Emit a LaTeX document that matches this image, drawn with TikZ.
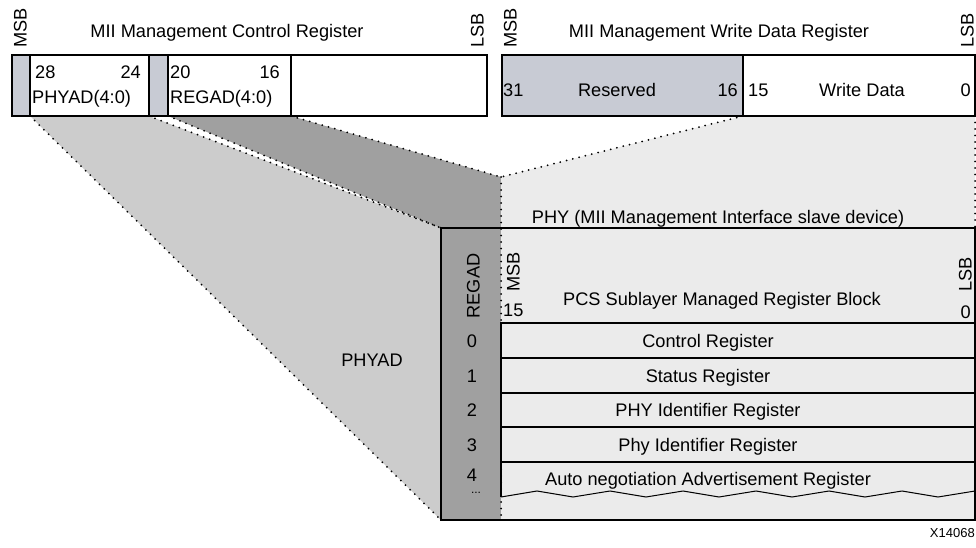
\documentclass[tikz,border=0pt]{standalone}
\usepackage{fontspec}
\setmainfont{Liberation Sans}
\usepackage{tikz}
\usetikzlibrary{positioning}
\tikzstyle{canvas} = [x = 1pt, y = -1pt]
\definecolor{cellGray}{RGB}{200,203,212}
\definecolor{funnelLight}{RGB}{204,204,204}
\definecolor{funnelDark}{RGB}{160,160,160}
\definecolor{phyFill}{RGB}{235,235,235}
\tikzstyle{cellStyle} = [draw=black, line width=1.5pt]
\tikzstyle{rowStyle} = [draw=black, line width=1.3pt]
\tikzstyle{funnelLine} = [line width=2pt, dash pattern=on 0pt off 6.5pt, line cap=round]
\tikzstyle{regText} = [font=\fontsize{18.2}{21}\selectfont, inner sep=0pt, text height=13pt, text depth=0pt]
\tikzstyle{sideText} = [regText, rotate=90, anchor=west]
\tikzstyle{noteText} = [font=\fontsize{13}{15}\selectfont, inner sep=0pt, anchor=east]
\newcommand{\regCell}[3]{\filldraw [cellStyle, fill=#3] (#1,55) rectangle (#2,116);}
\newcommand{\phyRow}[4]{
  \filldraw [rowStyle, fill=phyFill] (501,#1) rectangle (975,#2);
  \node [regText] (num#3) at (472,{(#1+#2)/2}) {#3};
  \node [regText] (row#3) at (708,{(#1+#2)/2}) {#4};
}

\begin{document}
\begin{tikzpicture}[canvas]
  \useasboundingbox (0,0) rectangle (976,548);
  \coordinate (phyTop) at (441,228);
  \coordinate (phyBottom) at (441,520);
  \coordinate (regadTop) at (501,177);
  \coordinate (regadBox) at (501,228);
  \coordinate (phyRight) at (975,228);

  % funnels from the register fields down to the PHY
  \fill [funnelLight] (30,116) -- (149,116) -- (phyTop) -- (phyBottom) -- cycle;
  \fill [funnelDark] (168,116) -- (291,116) -- (regadTop) -- (regadBox) -- (phyTop) -- cycle;
  \fill [phyFill] (743,116) -- (975,116) -- (phyRight) -- (regadBox) -- (regadTop) -- cycle;
  \draw [funnelLine] (30,116) -- (phyBottom);
  \draw [funnelLine] (149,116) -- (phyTop);
  \draw [funnelLine] (168,116) -- (phyTop);
  \draw [funnelLine] (291,116) -- (regadTop);
  \draw [funnelLine] (743,116) -- (regadTop);
  \draw [funnelLine] (975,116) -- (phyRight);
  \node [regText] (phyad) at (372,360) {PHYAD};

  % PHY block
  \fill [funnelDark] (phyTop) rectangle (501,520);
  \fill [phyFill] (regadBox) rectangle (975,520);
  \draw [funnelLine] (regadTop) -- (501,520);
  \node [regText] (phyTitle) at (718,217) {PHY (MII Management Interface slave device)};
  \node [sideText, anchor=center] (regad) at (473,286) {REGAD};
  \node [sideText] (phyMsb) at (513,292) {MSB};
  \node [sideText] (phyLsb) at (965,292) {LSB};
  \node [regText, anchor=west] (phyHigh) at (503,310) {15};
  \node [regText, anchor=east] (phyLow) at (971,312) {0};
  \node [regText] (pcsTitle) at (722,299) {PCS Sublayer Managed Register Block};
  \foreach \rowTop/\rowBot/\rowNum/\rowName in {323/358/0/Control Register, 358/393/1/Status Register, 393/427/2/PHY Identifier Register, 427/462/3/Phy Identifier Register}
    \phyRow{\rowTop}{\rowBot}{\rowNum}{\rowName};
  \draw [rowStyle] (501,497) -- (501,462) -- (975,462);
  \draw [rowStyle, line width=1pt] (501,497) \foreach \k in {0,...,5} { -- ({537+73*\k},491) -- ({573+73*\k},497) } -- (975,491);
  \node [regText] (num4) at (472,475) {4};
  \node [regText, font=\fontsize{12}{14}\selectfont] (numMore) at (476,487) {...};
  \node [regText] (row4) at (708,479) {Auto negotiation Advertisement Register};
  \draw [rowStyle] (phyTop) rectangle (975,520);

  % MII management control register
  \regCell{12}{30}{cellGray}
  \regCell{30}{149}{white}
  \regCell{149}{168}{cellGray}
  \regCell{168}{291}{white}
  \regCell{291}{487}{white}
  \node [sideText] (ctrlMsb) at (20,48) {MSB};
  \node [sideText] (ctrlLsb) at (477,48) {LSB};
  \node [regText] (ctrlTitle) at (227,31) {MII Management Control Register};
  \node [regText, anchor=west] (phyadHigh) at (35,72) {28};
  \node [regText, anchor=east] (phyadLow) at (141,72) {24};
  \node [regText, anchor=west] (phyadField) at (32,97) {PHYAD(4:0)};
  \node [regText, anchor=west] (regadHigh) at (170,72) {20};
  \node [regText, anchor=east] (regadLow) at (280,72) {16};
  \node [regText, anchor=west] (regadField) at (170,97) {REGAD(4:0)};

  % MII management write data register
  \regCell{502}{743}{cellGray}
  \regCell{743}{975}{white}
  \node [sideText] (dataMsb) at (510,48) {MSB};
  \node [sideText] (dataLsb) at (967,48) {LSB};
  \node [regText] (dataTitle) at (719,31) {MII Management Write Data Register};
  \node [regText, anchor=west] (resHigh) at (503,90) {31};
  \node [regText] (resField) at (617,90) {Reserved};
  \node [regText, anchor=east] (resLow) at (738,90) {16};
  \node [regText, anchor=west] (dataHigh) at (748,90) {15};
  \node [regText] (dataField) at (862,90) {Write Data};
  \node [regText, anchor=east] (dataLow) at (971,90) {0};

  \node [noteText] (figId) at (975,533) {X14068};
\end{tikzpicture}
\end{document}
